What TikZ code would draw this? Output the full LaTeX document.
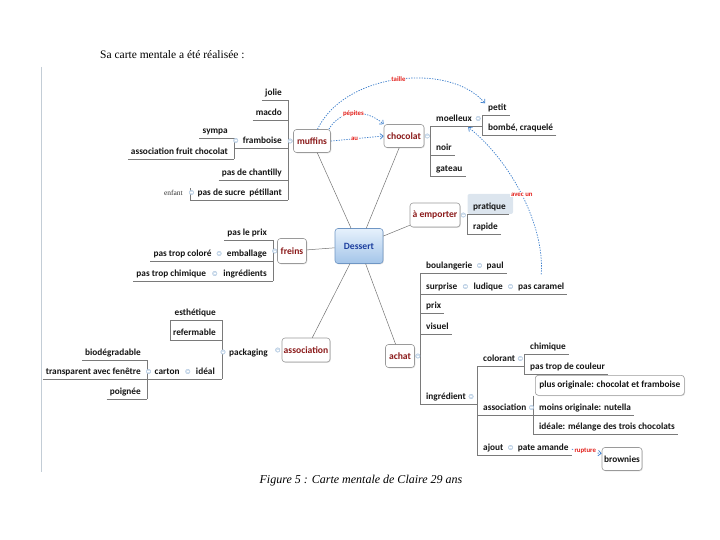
\documentclass[tikz,border=0pt]{standalone}
\usepackage{fontspec}
\setmainfont{Liberation Serif}
\newfontfamily\calfont{Carlito}
\usetikzlibrary{arrows.meta,shadows,calc}
\definecolor{mainred}{HTML}{8B1A1A}
\definecolor{relblue}{HTML}{3F80CC}
\definecolor{labred}{HTML}{E3211C}
\definecolor{linegray}{HTML}{7A7A7A}
\definecolor{boxgray}{HTML}{9A9A9A}
\definecolor{dblue}{HTML}{1C3E9E}
\definecolor{circfill}{HTML}{D4E2F0}
\definecolor{circdraw}{HTML}{A8C0DA}
\definecolor{dessborder}{HTML}{6F96C4}
\definecolor{desstop}{HTML}{E6F1FC}
\definecolor{dessbot}{HTML}{A4C5E9}
\definecolor{pratbg}{HTML}{DCE5EE}
\definecolor{leftline}{HTML}{C3CDD6}
\tikzset{
 sub/.style={font=\calfont\bfseries\fontsize{9.3}{11}\selectfont, text=black!92, inner xsep=3pt, inner ysep=0pt, text height=7pt, text depth=4.5pt},
 tinytext/.style={font=\rmfamily\fontsize{7.5}{9}\selectfont, text=black!80, inner xsep=3pt, inner ysep=0pt, text height=6pt, text depth=4.5pt},
 mainbox/.style={draw=boxgray, line width=0.6pt, rounded corners=3pt, fill=white, text=mainred, font=\calfont\bfseries\fontsize{9.6}{11}\selectfont, inner sep=0pt, drop shadow={shadow xshift=0.8pt, shadow yshift=-0.8pt, opacity=0.25}},
 plainbox/.style={mainbox, text=black!92, font=\calfont\bfseries\fontsize{9.3}{11}\selectfont},
 uline/.style={draw=linegray, line width=0.6pt},
 conn/.style={draw=black!55, line width=0.5pt},
 rel/.style={draw=relblue, line width=0.75pt, dash pattern=on 1.3pt off 1.3pt, -{Straight Barb[length=3pt,width=5.5pt]}},
 rellab/.style={font=\calfont\bfseries\fontsize{6.8}{8}\selectfont, text=labred, fill=white, inner sep=0.6pt},
 cc/.pic={\fill[circfill, draw=circdraw, line width=0.3pt] (0,0) circle (2.3pt); \draw[white, line width=0.5pt] (-1.2pt,0) -- (1.2pt,0);}
}
\begin{document}
\begin{tikzpicture}[x=1pt,y=-1pt]
\useasboundingbox (0,0) rectangle (720,540);
\node[anchor=west, font=\fontsize{11.5}{13}\selectfont, inner sep=0pt] (title) at (100,55) {Sa carte mentale a été réalisée :};
\draw[draw=leftline, line width=0.8pt] (41,67) -- (41,472);

% bracket x positions
\coordinate (bM) at (288,0);
\coordinate (bF) at (234,0);
\coordinate (bS) at (190,0);
\coordinate (bC) at (430,0);
\coordinate (bMo) at (482,0);
\coordinate (bE) at (467,0);
\coordinate (bFr) at (273,0);
\coordinate (bP) at (222,0);
\coordinate (bCa) at (147,0);
\coordinate (bA) at (420,0);
\coordinate (bI) at (477,0);
\coordinate (bCo) at (524,0);
\coordinate (bAs) at (533,0);

% main topics
\node[mainbox, minimum width=48pt, minimum height=35pt, draw=dessborder, top color=desstop, bottom color=dessbot, text=dblue] (dessert) at (359,246) {Dessert};
\node[mainbox, minimum width=37pt, minimum height=23pt] (muffins) at (312,141) {muffins};
\node[mainbox, minimum width=40pt, minimum height=23pt] (chocolat) at (404,136) {chocolat};
\node[mainbox, minimum width=50pt, minimum height=24pt] (emporter) at (435,215) {à emporter};
\node[mainbox, minimum width=29pt, minimum height=25pt] (freins) at (292,251) {freins};
\node[mainbox, minimum width=48pt, minimum height=24pt] (association) at (306,350) {association};
\node[mainbox, minimum width=29pt, minimum height=23pt] (achat) at (400,356) {achat};

\draw[conn] (dessert) -- (muffins);
\draw[conn] (dessert) -- (chocolat);
\draw[conn] (dessert) -- (emporter);
\draw[conn] (dessert) -- (freins);
\draw[conn] (dessert) -- (association);
\draw[conn] (dessert) -- (achat);

% muffins branch
\node[sub, anchor=base east] (jolie) at (285,95.5) {jolie};
\node[sub, anchor=base east] (macdo) at (285,115.5) {macdo};
\node[sub, anchor=base east] (framboise) at (285,143.5) {framboise};
\node[sub, anchor=base east] (chantilly) at (285,175.5) {pas de chantilly};
\node[sub, anchor=base east] (sucre) at (285,195.5) {pas de sucre\ \ pétillant};
\node[sub, anchor=base east] (sympa) at (231,133.5) {sympa};
\node[sub, anchor=base east] (assocfruit) at (231,154.5) {association fruit chocolat};
\node[tinytext, anchor=base east] (enfant) at (186,195.5) {enfant};
\draw[uline] (jolie.south west) -- (jolie.south west -| bM);
\draw[uline] (macdo.south west) -- (macdo.south west -| bM);
\draw[uline] (framboise.south west -| bF) -- (framboise.south west -| bM);
\draw[uline] (chantilly.south west) -- (chantilly.south west -| bM);
\draw[uline] (sucre.south west -| bS) -- (sucre.south west -| bM);
\draw[uline] (sympa.south west) -- (sympa.south west -| bF);
\draw[uline] (assocfruit.south west) -- (assocfruit.south west -| bF);
\draw[uline] (jolie.south -| bM) -- (sucre.south -| bM);
\draw[uline] (sympa.south -| bF) -- (assocfruit.south -| bF);
\draw[uline] (sucre.north -| bS) -- (sucre.south -| bS);
\pic at ($(muffins.west)+(-3,0)$) {cc};
\pic at ($(framboise.base west)+(-4,-3)$) {cc};
\pic at ($(sucre.base west)+(-3,-3)$) {cc};

% chocolat branch
\node[sub, anchor=base west] (moelleux) at (433,121.5) {moelleux};
\node[sub, anchor=base west] (petit) at (485,110.5) {petit};
\node[sub, anchor=base west] (bombe) at (485,130.5) {bombé, craquelé};
\node[sub, anchor=base west] (noir) at (433,150.5) {noir};
\node[sub, anchor=base west] (gateau) at (433,171.5) {gateau};
\draw[uline] (moelleux.south west -| bC) -- (moelleux.south west -| bMo);
\draw[uline] (petit.south east) -- (petit.south east -| bMo);
\draw[uline] (bombe.south east) -- (bombe.south east -| bMo);
\draw[uline] (noir.south east) -- (noir.south east -| bC);
\draw[uline] (gateau.south east) -- (gateau.south east -| bC);
\draw[uline] (moelleux.south -| bC) -- (gateau.south -| bC);
\draw[uline] (petit.south -| bMo) -- (bombe.south -| bMo);
\pic at ($(chocolat.east)+(3,0)$) {cc};
\pic at ($(moelleux.base east)+(3,-3)$) {cc};

% a emporter branch
\fill[pratbg, rounded corners=2pt] (467.5,194) rectangle (513,214);
\node[sub, anchor=base west] (pratique) at (470,209.5) {pratique};
\node[sub, anchor=base west] (rapide) at (470,229.5) {rapide};
\draw[uline] (pratique.south east) -- (pratique.south east -| bE);
\draw[uline] (rapide.south east) -- (rapide.south east -| bE);
\draw[uline] (pratique.south -| bE) -- (rapide.south -| bE);
\pic at ($(emporter.east)+(3,0)$) {cc};

% freins branch
\node[sub, anchor=base east] (paslepix) at (270,235.5) {pas le prix};
\node[sub, anchor=base east] (emballage) at (270,256.5) {emballage};
\node[sub, anchor=base east] (pastropcolore) at ($(emballage.base west)+(-9,0)$) {pas trop coloré};
\node[sub, anchor=base east] (ingredients) at (270,276.5) {ingrédients};
\node[sub, anchor=base east] (pastropchimique) at ($(ingredients.base west)+(-11,0)$) {pas trop chimique};
\draw[uline] (paslepix.south west) -- (paslepix.south west -| bFr);
\draw[uline] (pastropcolore.south west) -- (emballage.south east -| bFr);
\draw[uline] (pastropchimique.south west) -- (ingredients.south east -| bFr);
\draw[uline] (paslepix.south -| bFr) -- (ingredients.south -| bFr);
\pic at ($(freins.west)+(-2.5,0)$) {cc};
\pic at ($(pastropcolore.base east)!0.5!(emballage.base west)+(0,-3)$) {cc};
\pic at ($(pastropchimique.base east)!0.5!(ingredients.base west)+(0,-3)$) {cc};

% association branch
\node[sub, anchor=base west] (packaging) at (226,355) {packaging};
\node[sub, anchor=base east] (esthetique) at (219,315.5) {esthétique};
\node[sub, anchor=base east] (refermable) at (219,335.5) {refermable};
\node[sub, anchor=base east] (ideal) at (218,374.5) {idéal};
\node[sub, anchor=base east] (carton) at ($(ideal.base west)+(-10,0)$) {carton};
\node[sub, anchor=base east] (biodegradable) at (144,355.5) {biodégradable};
\node[sub, anchor=base east] (transparent) at (144,374.5) {transparent avec fenêtre};
\node[sub, anchor=base east] (poignee) at (144,394.5) {poignée};
\draw[uline] (esthetique.south west) -- (esthetique.south west -| bP);
\draw[uline] (refermable.south west) -- (refermable.south west -| bP);
\draw[uline] (refermable.south west) -- (refermable.south west |- esthetique.south);
\draw[uline] (carton.south west -| bCa) -- (ideal.south east -| bP);
\draw[uline] (biodegradable.south west) -- (biodegradable.south west -| bCa);
\draw[uline] (transparent.south west) -- (transparent.south west -| bCa);
\draw[uline] (poignee.south west) -- (poignee.south west -| bCa);
\draw[uline] (esthetique.south -| bP) -- (ideal.south -| bP);
\draw[uline] (biodegradable.south -| bCa) -- (poignee.south -| bCa);
\pic at ($(association.west)+(-4,0)$) {cc};
\pic at ($(packaging.base west)+(-3,-3)$) {cc};
\pic at ($(carton.base east)!0.5!(ideal.base west)+(0,-3)$) {cc};
\pic at ($(carton.base west)+(-3,-3)$) {cc};

% achat branch
\node[sub, anchor=base west] (boulangerie) at (423,268.5) {boulangerie};
\node[sub, anchor=base west] (paul) at ($(boulangerie.base east)+(8,0)$) {paul};
\node[sub, anchor=base west] (surprise) at (423,289.5) {surprise};
\node[sub, anchor=base west] (ludique) at ($(surprise.base east)+(10,0)$) {ludique};
\node[sub, anchor=base west] (pascaramel) at ($(ludique.base east)+(9,0)$) {pas caramel};
\node[sub, anchor=base west] (prix) at (423,308.5) {prix};
\node[sub, anchor=base west] (visuel) at (423,329.5) {visuel};
\node[sub, anchor=base west] (ingredient) at (423,399.5) {ingrédient};
\node[sub, anchor=base west] (colorant) at (480,361.5) {colorant};
\node[sub, anchor=base west] (chimique) at (527,349.5) {chimique};
\node[sub, anchor=base west] (pastropcouleur) at (527,369.5) {pas trop de couleur};
\node[plainbox, anchor=north west, minimum width=149pt, minimum height=20pt] (plusorig) at (535,375) {plus originale: chocolat et framboise};
\node[sub, anchor=base west] (association2) at (480,410.5) {association};
\node[sub, anchor=base west] (moinsorig) at (536,410.5) {moins originale: nutella};
\node[sub, anchor=base west] (ideale) at (536,429.5) {idéale: mélange des trois chocolats};
\node[sub, anchor=base west] (ajout) at (480,450.5) {ajout};
\node[sub, anchor=base west] (pateamande) at ($(ajout.base east)+(8,0)$) {pate amande};
\node[plainbox, minimum width=40pt, minimum height=23pt] (brownies) at (622,459) {brownies};
\draw[uline] (boulangerie.south west -| bA) -- (paul.south east);
\draw[uline] (surprise.south west -| bA) -- (pascaramel.south east);
\draw[uline] (prix.south west -| bA) -- (prix.south east);
\draw[uline] (visuel.south west -| bA) -- (visuel.south east);
\draw[uline] (ingredient.south west -| bA) -- (ingredient.south west -| bI);
\draw[uline] (colorant.south west -| bI) -- (colorant.south west -| bCo);
\draw[uline] (chimique.south west -| bCo) -- (chimique.south east);
\draw[uline] (pastropcouleur.south west -| bCo) -- (pastropcouleur.south east);
\draw[uline] (association2.south west -| bI) -- (association2.south west -| bAs);
\draw[uline] (moinsorig.south west -| bAs) -- (moinsorig.south east);
\draw[uline] (ideale.south west -| bAs) -- (ideale.south east);
\draw[uline] (ajout.south west -| bI) -- (pateamande.south east);
\draw[uline] (boulangerie.south -| bA) -- (ingredient.south -| bA);
\draw[uline] (colorant.south -| bI) -- (ajout.south -| bI);
\draw[uline] (chimique.south -| bCo) -- (pastropcouleur.south -| bCo);
\draw[uline] (plusorig.south -| bAs) -- (ideale.south -| bAs);
\pic at ($(achat.east)+(3,0)$) {cc};
\pic at ($(boulangerie.base east)!0.5!(paul.base west)+(0,-3)$) {cc};
\pic at ($(surprise.base east)!0.5!(ludique.base west)+(0,-3)$) {cc};
\pic at ($(ludique.base east)!0.5!(pascaramel.base west)+(0,-3)$) {cc};
\pic at ($(ingredient.base east)+(2,-3)$) {cc};
\pic at ($(colorant.base east)+(2,-3)$) {cc};
\pic at ($(association2.base east)+(2,-3)$) {cc};
\pic at ($(ajout.base east)!0.5!(pateamande.base west)+(0,-3)$) {cc};

% relationships
\draw[rel] (muffins.65) .. controls (345,72) and (450,62) .. (petit.north west) node[rellab, pos=0.5] {taille};
\draw[rel] (muffins.35) .. controls (340,110) and (365,108) .. (chocolat.north west) node[rellab, pos=0.5] {pépites};
\draw[rel] (muffins.east) -- (chocolat.west) node[rellab, pos=0.45] {au};
\draw[rel] ($(pascaramel.north)+(0,-8)$) .. controls (545,225) and (510,160) .. ($(moelleux.south east)+(-7,1)$) node[rellab, pos=0.5] {avec un};
\draw[rel] (pateamande.east) -- (brownies.165) node[rellab, pos=0.45] {rupture};

\node[font=\itshape\fontsize{12}{14}\selectfont, inner sep=0pt] (caption) at (361,481) {Figure 5 : Carte mentale de Claire 29 ans};
\end{tikzpicture}
\end{document}
